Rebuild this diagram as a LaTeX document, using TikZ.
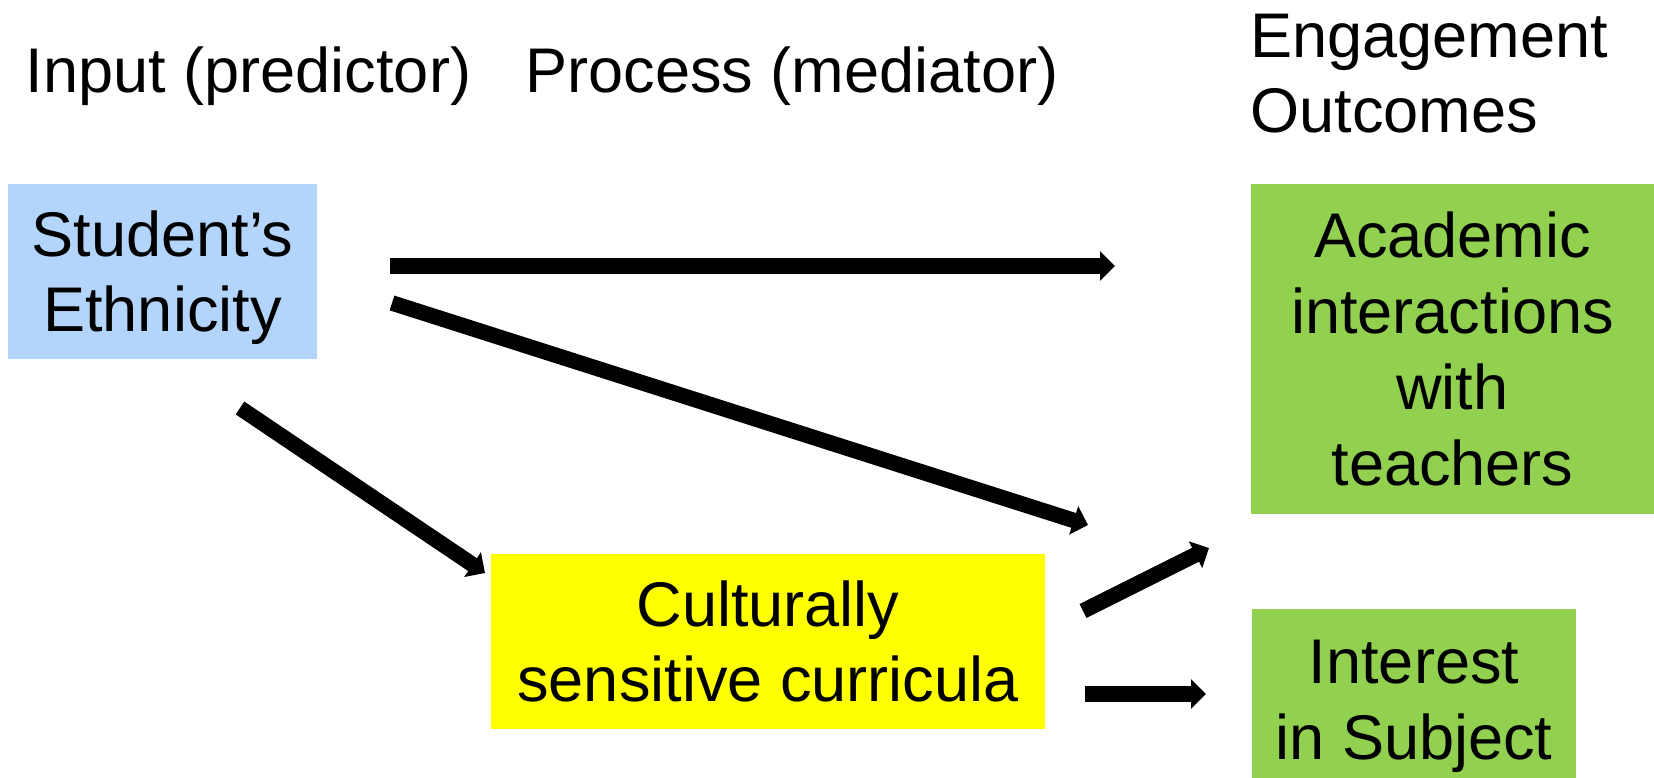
\documentclass[tikz,border=0pt]{standalone}
\usepackage{fontspec}
\setmainfont{Liberation Sans}
\usetikzlibrary{arrows.meta,positioning}
\definecolor{ethblue}{RGB}{179,213,252}
\definecolor{curyellow}{RGB}{255,255,0}
\definecolor{outgreen}{RGB}{146,208,80}
\newcommand{\BigText}{\fontsize{35.9pt}{43.2pt}\selectfont}
\tikzstyle{arrow} = [draw, line width=0.31cm, color=black, -{Triangle[length=0.3cm,width=0.58cm]}]
\tikzstyle{box} = [inner sep=0pt, align=center, font=\BigText, text depth=0pt]
\tikzstyle{heading} = [anchor=base west, inner sep=0pt, align=left, font=\BigText]

\begin{document}
\begin{tikzpicture}[auto]

\useasboundingbox (0,0) rectangle (33.08,15.56);


%%% %%%
% Headings
%%% %%%


\node[heading] at (0.51,13.70) (HInput) {Input (predictor)};
\node[heading] at (10.50,13.70) (HProcess) {Process (mediator)};
\node[heading] at (25.00,12.90) (HOutcome) {Engagement\\Outcomes};


%%% %%%
% Boxes
%%% %%%


\node[box,fill=ethblue,minimum width=6.18cm,minimum height=3.5cm,text height=2.42cm,xshift=3.25cm,yshift=10.13cm](Eth){Student’s\\Ethnicity};

\node[box,fill=curyellow,minimum width=11.08cm,minimum height=3.5cm,text height=2.42cm,xshift=15.36cm,yshift=2.73cm](Cur){Culturally\\sensitive curricula};

\node[box,fill=outgreen,minimum width=8.06cm,minimum height=6.6cm,text height=5.46cm,xshift=29.05cm,yshift=8.58cm](Aca){Academic\\interactions\\with\\teachers};

\node[box,fill=outgreen,minimum width=6.48cm,minimum height=3.6cm,text height=2.42cm,xshift=28.28cm,yshift=1.58cm](Int){Interest \\in Subject};


%%%
% Arrow ends
%%%

\coordinate (EthA) at (7.80,10.24);
\coordinate (EthB) at (7.84,9.50);
\coordinate (EthC) at (4.80,7.40);
\coordinate (CurIn) at (9.70,4.10);
\coordinate (CurA) at (21.66,3.34);
\coordinate (CurB) at (21.70,1.68);
\coordinate (AcaIn) at (22.30,10.24);
\coordinate (MidIn) at (21.76,5.06);
\coordinate (GapIn) at (24.18,4.60);
\coordinate (IntIn) at (24.12,1.68);


%%%
% Arrows
%%%

\draw [arrow] (EthA) to (AcaIn);
\draw [arrow] (EthB) to (MidIn);
\draw [arrow] (EthC) to (CurIn);
\draw [arrow] (CurA) to (GapIn);
\draw [arrow] (CurB) to (IntIn);


\end{tikzpicture}
\end{document}
